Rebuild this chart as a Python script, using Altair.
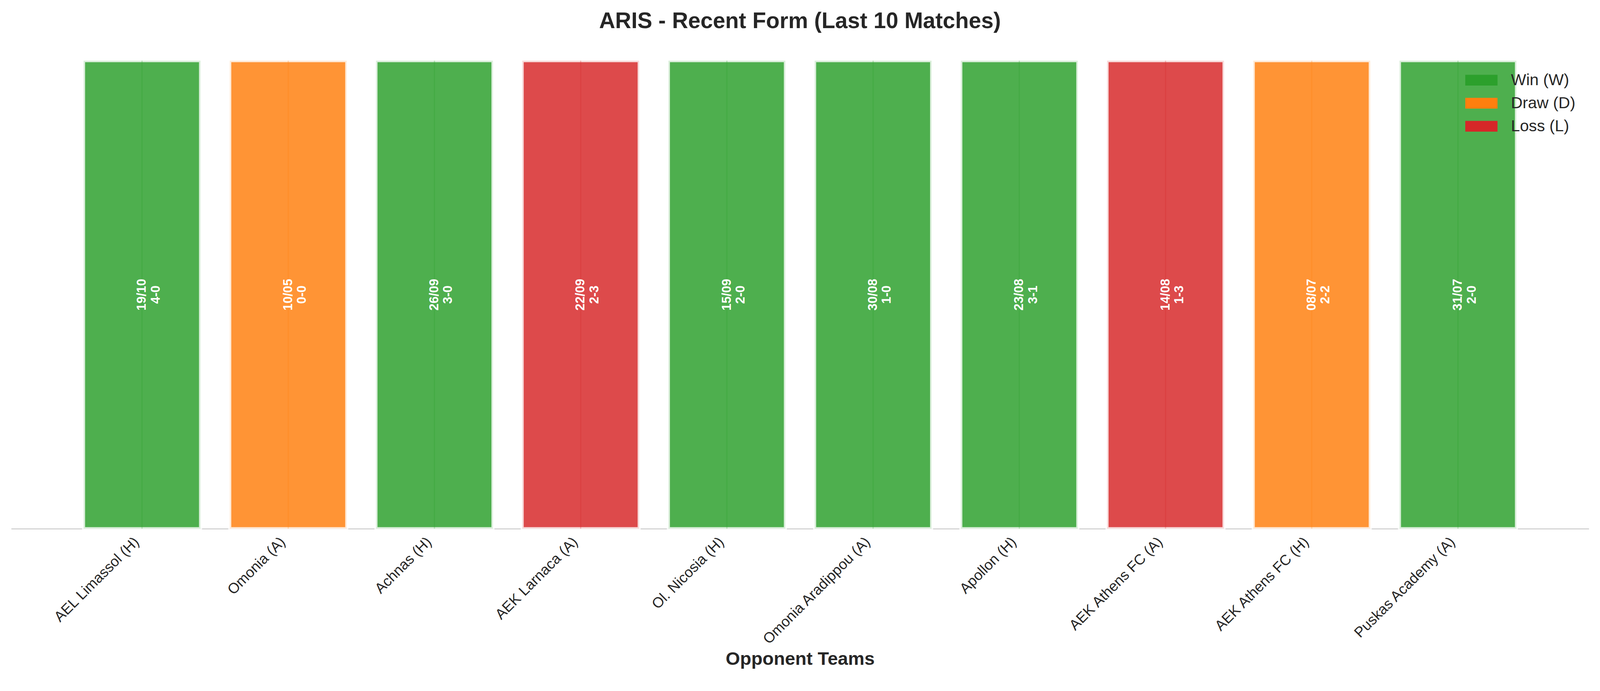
import altair as alt
import pandas as pd

teams = ["AEL Limassol (H)", "Omonia (A)", "Achnas (H)", "AEK Larnaca (A)", "Ol. Nicosia (H)",
         "Omonia Aradippou (A)", "Apollon (H)", "AEK Athens FC (A)", "AEK Athens FC (H)",
         "Puskas Academy (A)"]
dates = ["19/10", "10/05", "26/09", "22/09", "15/09", "30/08", "23/08", "14/08", "08/07", "31/07"]
scores = ["4-0", "0-0", "3-0", "2-3", "2-0", "1-0", "3-1", "1-3", "2-2", "2-0"]
results = ["W", "D", "W", "L", "W", "W", "W", "L", "D", "W"]
heights = [1, 1, 1, 1, 1, 1, 1, 1, 1, 1]

result_names = {"W": "Win (W)", "D": "Draw (D)", "L": "Loss (L)"}
legend_order = ["Win (W)", "Draw (D)", "Loss (L)"]
legend_colors = ["#2ca02c", "#ff7f0e", "#d62728"]

df = pd.DataFrame({
    "team": teams,
    "value": heights,
    "result": [result_names[r] for r in results],
    "label": [d + "\n" + s for d, s in zip(dates, scores)],
})

FONT = "Liberation Sans"
TXT = "#262626"

xenc = alt.X(
    "team:N", sort=teams,
    scale=alt.Scale(paddingInner=0.2, paddingOuter=0.495),
    axis=alt.Axis(
        title="Opponent Teams", titleFontSize=48, titleFontWeight="bold", titleColor=TXT,
        titleY=354, titleBaseline="alphabetic", titleFont=FONT,
        labelAngle=315, labelAlign="right", labelBaseline="bottom", labelPadding=42,
        labelFontSize=38, labelColor=TXT, labelFont=FONT, labelLimit=0,
        ticks=False, grid=False, domainColor="#cccccc", domainWidth=2.5,
    ),
)
yscale = alt.Scale(domain=[0, 1.05], nice=False, zero=True)

color = alt.Color(
    "result:N",
    scale=alt.Scale(domain=legend_order, range=legend_colors),
    legend=alt.Legend(
        title=None, orient="none", legendX=3804, legendY=84,
        symbolType="M-1.5,-0.5H1.5V0.5H-1.5Z", symbolSize=3136,
        symbolStrokeWidth=0, symbolOpacity=1,
        labelFontSize=42, labelFont=FONT, labelColor=TXT, labelOffset=49,
        labelLimit=400, rowPadding=11, padding=0,
    ),
)

base = alt.Chart(df)

bars = base.mark_bar(
    fillOpacity=0.84, stroke="white", strokeWidth=8, strokeOpacity=0.8
).encode(
    x=xenc,
    y=alt.Y("value:Q", scale=yscale, axis=None),
    color=color,
)

centre = base.transform_calculate(base0="0").mark_rule(
    strokeWidth=3, opacity=0.25
).encode(
    x=alt.X("team:N", sort=teams),
    y=alt.Y("base0:Q", scale=yscale),
    y2="value:Q",
    color=alt.Color("result:N", scale=alt.Scale(domain=legend_order, range=legend_colors), legend=None),
)

labels = base.transform_calculate(mid="datum.value / 2").mark_text(
    angle=270, fontSize=33, fontWeight="bold", color="white", font=FONT,
    lineBreak="\n", lineHeight=36, align="center", baseline="middle",
).encode(
    x=alt.X("team:N", sort=teams),
    y=alt.Y("mid:Q", scale=yscale),
    text="label:N",
)

chart = alt.layer(bars, centre, labels).properties(
    width=4112, height=1281,
    title=alt.TitleParams(
        "ARIS - Recent Form (Last 10 Matches)", fontSize=58, fontWeight="bold",
        color=TXT, font=FONT, anchor="middle", frame="group", offset=22,
        baseline="alphabetic", dy=56,
    ),
    autosize=alt.AutoSizeParams(type="none"),
    padding={"left": 21, "top": 73, "right": 21, "bottom": 396},
    background="white",
).configure_view(stroke=None)

chart.save("out.html", embed_options={"renderer": "svg", "actions": False})
